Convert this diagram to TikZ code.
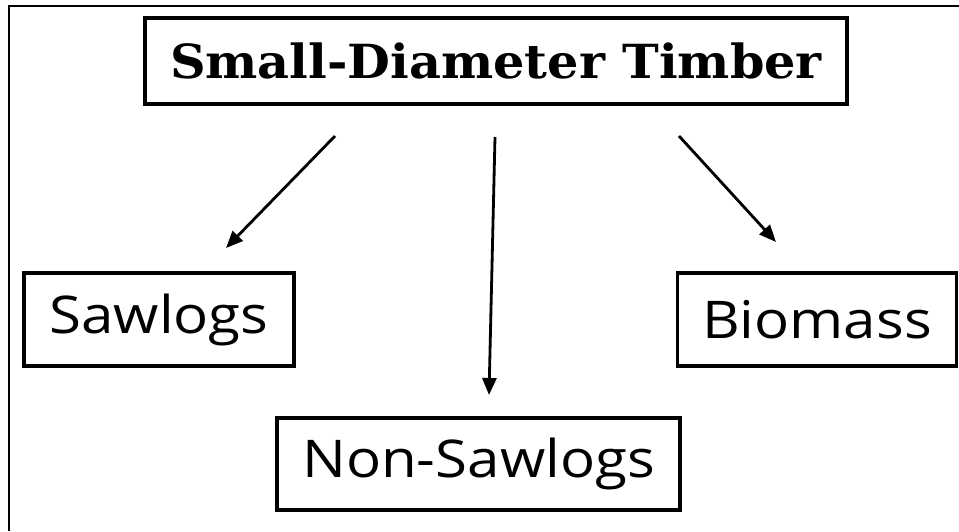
\documentclass[tikz,border=0pt]{standalone}
\usepackage{fontspec}
\setmainfont{Open Sans}
\newfontfamily\titlefont{DejaVu Serif}
\usetikzlibrary{arrows.meta}
\begin{document}
\begin{tikzpicture}[x=1pt,y=-1pt,
  boxnode/.style={draw=black,line width=3.2pt,inner sep=0pt,align=center},
  arr/.style={line width=2.8pt,-{Triangle[length=17pt,width=14pt]}},
  lbl/.style={font=\fontsize{52}{58}\selectfont}]
\useasboundingbox (0,0) rectangle (959,531);
\draw[line width=2pt] (9,531) -- (9,5.5) -- (959,5.5);
\node[boxnode,minimum width=702pt,minimum height=86pt] (title) at (496,61)
  {\titlefont\bfseries\fontsize{47}{52}\selectfont\scalebox{1.05}[1]{Small-Diameter Timber}};
\node[boxnode,lbl,minimum width=270pt,minimum height=93pt] (saw) at (159,319.5) {\scalebox{1.12}[1]{Sawlogs}};
\node[boxnode,lbl,minimum width=279pt,minimum height=93pt] (bio) at (817,319.5) {\scalebox{1.12}[1]{Biomass}};
\node[boxnode,lbl,minimum width=403pt,minimum height=92pt] (non) at (478.5,464) {\scalebox{1.12}[1]{Non-Sawlogs}};
\coordinate (a1s) at (335,136);
\coordinate (a1e) at (226,248);
\coordinate (a2s) at (495,137);
\coordinate (a2e) at (489,395);
\coordinate (a3s) at (679,136);
\coordinate (a3e) at (776,242);
\draw[arr] (a1s) -- (a1e);
\draw[arr] (a2s) -- (a2e);
\draw[arr] (a3s) -- (a3e);
\end{tikzpicture}
\end{document}
